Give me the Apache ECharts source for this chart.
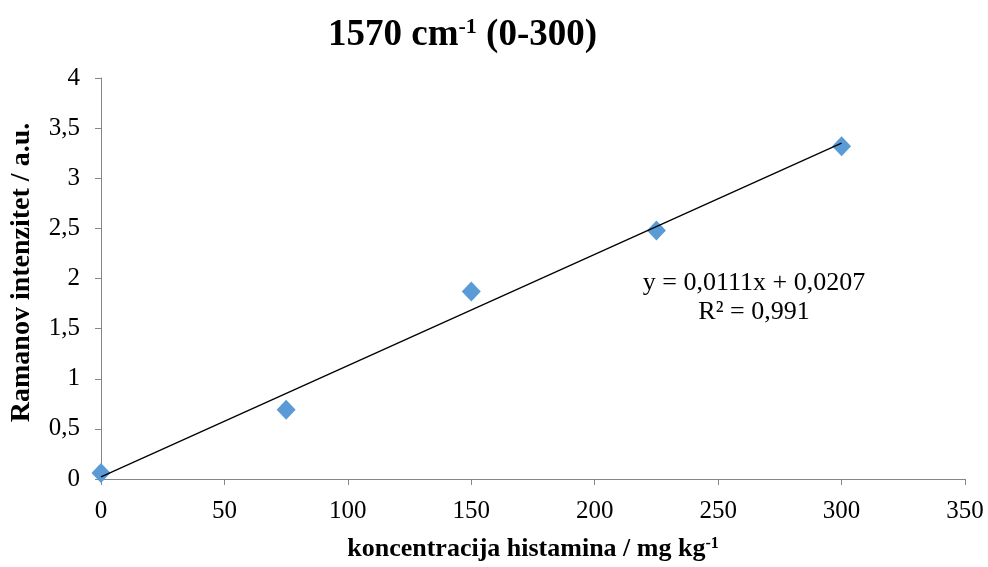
<!DOCTYPE html>
<html>
<head>
<meta charset="utf-8">
<script src="https://cdn.jsdelivr.net/npm/echarts@6/dist/echarts.min.js"></script>
<style>html,body{margin:0;padding:0;background:#fff}#c{width:988px;height:567px}</style>
</head>
<body>
<div id="c"></div>
<script>
var concentrations = [0, 75, 150, 225, 300];
var intensities = [0.06, 0.69, 1.87, 2.48, 3.32];
var trendSlope = 0.0111;
var trendIntercept = 0.0207;
var trendRange = [0, 300];
var equationLines = ['y = 0,0111x + 0,0207', 'R² = 0,991'];

var font = '"Liberation Serif", "Times New Roman", serif';
var chart = echarts.init(document.getElementById('c'));
var fmt = function (v) { return String(v).replace('.', ','); };
chart.setOption({
  animation: false,
  backgroundColor: '#fff',
  title: {
    text: '{t|1570 cm}{s|-1}{t| (0-300)}',
    left: 323, top: 11,
    textStyle: {
      rich: {
        t: { fontFamily: font, fontWeight: 'bold', fontSize: 37, color: '#000' },
        s: { fontFamily: font, fontWeight: 'bold', fontSize: 22, color: '#000', verticalAlign: 'top', padding: [0, 0, 16, 0] }
      }
    }
  },
  grid: { left: 99, right: 23, top: 78, bottom: 87, containLabel: false },
  xAxis: {
    type: 'value', min: 0, max: 350, interval: 50,
    axisLine: { lineStyle: { color: '#868686', width: 1 } },
    axisTick: { show: true, length: 6, lineStyle: { color: '#868686' } },
    splitLine: { show: false },
    axisLabel: { fontFamily: font, fontSize: 25, color: '#000', margin: 20 },
    name: '{t|koncentracija histamina / mg kg}{s|-1}',
    nameLocation: 'middle', nameGap: 57,
    nameTextStyle: {
      rich: {
        t: { fontFamily: font, fontWeight: 'bold', fontSize: 26, color: '#000' },
        s: { fontFamily: font, fontWeight: 'bold', fontSize: 16, color: '#000', verticalAlign: 'top', padding: [0, 0, 10, 0] }
      }
    }
  },
  yAxis: {
    type: 'value', min: 0, max: 4, interval: 0.5,
    axisLine: { show: true, lineStyle: { color: '#868686', width: 1 } },
    axisTick: { show: true, length: 6, lineStyle: { color: '#868686' } },
    splitLine: { show: false },
    axisLabel: { fontFamily: font, fontSize: 25, color: '#000', margin: 21, formatter: fmt },
    name: 'Ramanov intenzitet / a.u.',
    nameLocation: 'middle', nameGap: 65,
    nameTextStyle: { fontFamily: font, fontWeight: 'bold', fontSize: 28, color: '#000', padding: [0, 0, 0, 12] }
  },
  series: [
    {
      type: 'line',
      data: trendRange.map(function (x) { return [x, trendSlope * x + trendIntercept]; }),
      showSymbol: false, symbol: 'none',
      lineStyle: { color: '#000', width: 1.3 },
      z: 3
    },
    {
      type: 'scatter',
      data: concentrations.map(function (x, i) { return [x, intensities[i]]; }),
      symbol: 'diamond', symbolSize: [19, 20],
      itemStyle: { color: '#5B9BD5', opacity: 1 },
      z: 2
    }
  ],
  graphic: [{
    type: 'text', x: 754, y: 269,
    style: {
      text: equationLines.join('\n'),
      align: 'center',
      font: '26px ' + font, fill: '#000', lineHeight: 29
    }
  }]
});
</script>
</body>
</html>
